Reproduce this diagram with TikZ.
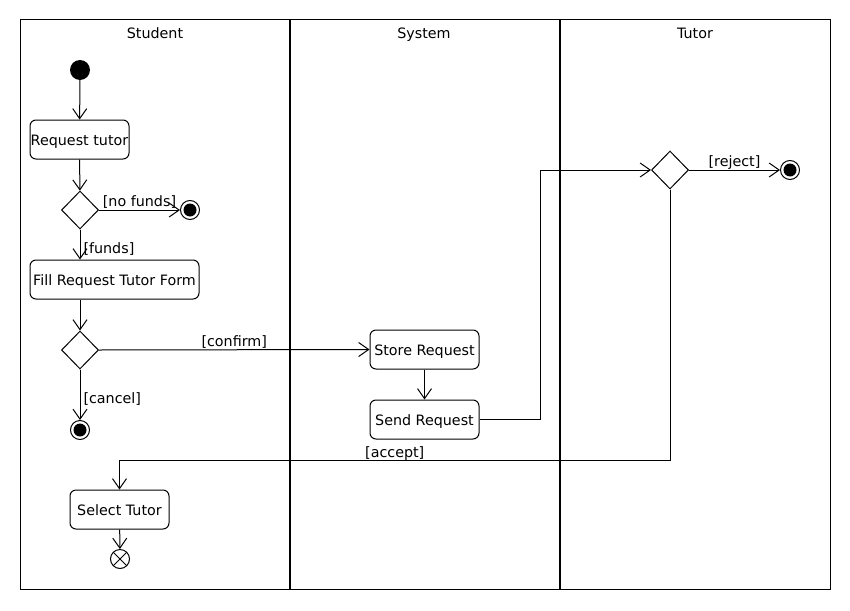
\documentclass[tikz,border=0pt]{standalone}
\usepackage{fontspec}
\setmainfont{DejaVu Sans}
\usetikzlibrary{arrows.meta,shapes.geometric}
\begin{document}
\begin{tikzpicture}[x=1pt,y=-1pt,
  every node/.style={font=\fontsize{14.3}{17}\selectfont},
  act/.style={draw, rounded corners=6pt, minimum height=39pt, inner sep=0pt, line width=1pt, text height=11pt, text depth=0pt},
  decision/.style={draw, diamond, minimum width=37pt, minimum height=38pt, inner sep=0pt, line width=1pt},
  initial/.style={circle, fill=black, minimum size=20pt, inner sep=0pt},
  final/.style={circle, draw, minimum size=19pt, inner sep=0pt, line width=1pt,
    path picture={\fill (path picture bounding box.center) circle (6.5pt);}},
  flowfinal/.style={circle, draw, minimum size=19pt, inner sep=0pt, line width=1pt,
    path picture={\draw[line width=1pt] ([shift={(-7,-7)}]path picture bounding box.center) -- ([shift={(7,7)}]path picture bounding box.center);
                  \draw[line width=1pt] ([shift={(-7,7)}]path picture bounding box.center) -- ([shift={(7,-7)}]path picture bounding box.center);}},
  flow/.style={line width=1pt, -{Straight Barb[length=10pt,width=14pt,line width=1pt]}},
  guard/.style={inner sep=0pt, text height=11pt, text depth=0pt},
  title/.style={anchor=base},
  lane/.style={line width=2pt}
]
\useasboundingbox (0,0) rectangle (850,610);
\fill[white] (0,0) rectangle (850,610);
% swimlanes
\draw[line width=1pt] (20,20) rectangle (830,589);
\draw[lane] (290,20) -- (290,589);
\draw[lane] (560,20) -- (560,589);
\node[title] (tStudent) at (155,38.5) {Student};
\node[title] (tSystem) at (424,38.5) {System};
\node[title] (tTutor) at (695,38.5) {Tutor};
% nodes
\node[initial] (start) at (80,70) {};
\node[act, minimum width=99pt] (req) at (79.5,139.5) {Request tutor};
\node[decision] (d1) at (80,210) {};
\node[final] (fin1) at (190,210) {};
\node[act, minimum width=169pt] (fill) at (114.5,279.5) {Fill Request Tutor Form};
\node[decision] (d2) at (80,350) {};
\node[final] (fin2) at (80,430) {};
\node[act, minimum width=109pt] (store) at (424.5,349.5) {Store Request};
\node[act, minimum width=109pt] (send) at (424.5,419.5) {Send Request};
\node[decision] (d3) at (670,170) {};
\node[final] (fin3) at (790,170) {};
\node[act, minimum width=99pt] (select) at (119.5,509.5) {Select Tutor};
\node[flowfinal] (ff) at (120,559) {};
% connectors
\draw[flow] (start) -- (req);
\draw[flow] (req) -- (d1);
\draw[flow] (d1.east) -- node[guard, above=3pt, midway] {[no funds]} (fin1);
\draw[flow] (d1.south) -- node[guard, right=3pt, pos=0.6] {[funds]} (fill.north -| d1);
\draw[flow] (fill.south -| d2) -- (d2.north);
\draw[flow] (d2.east) -- node[guard, above=3pt, midway] {[confirm]} (store.west);
\draw[flow] (d2.south) -- node[guard, right=3pt, pos=0.57] {[cancel]} (fin2);
\draw[flow] (store) -- (send);
\draw[flow] (send.east) -- ++(61,0) |- (d3.west);
\draw[flow] (d3.east) -- node[guard, above=3pt, midway] {[reject]} (fin3);
\draw[flow] (d3.south) -- ++(0,271) -| node[guard, above=3pt, pos=0.25] {[accept]} (select.north);
\draw[flow] (select) -- (ff);
\end{tikzpicture}
\end{document}
